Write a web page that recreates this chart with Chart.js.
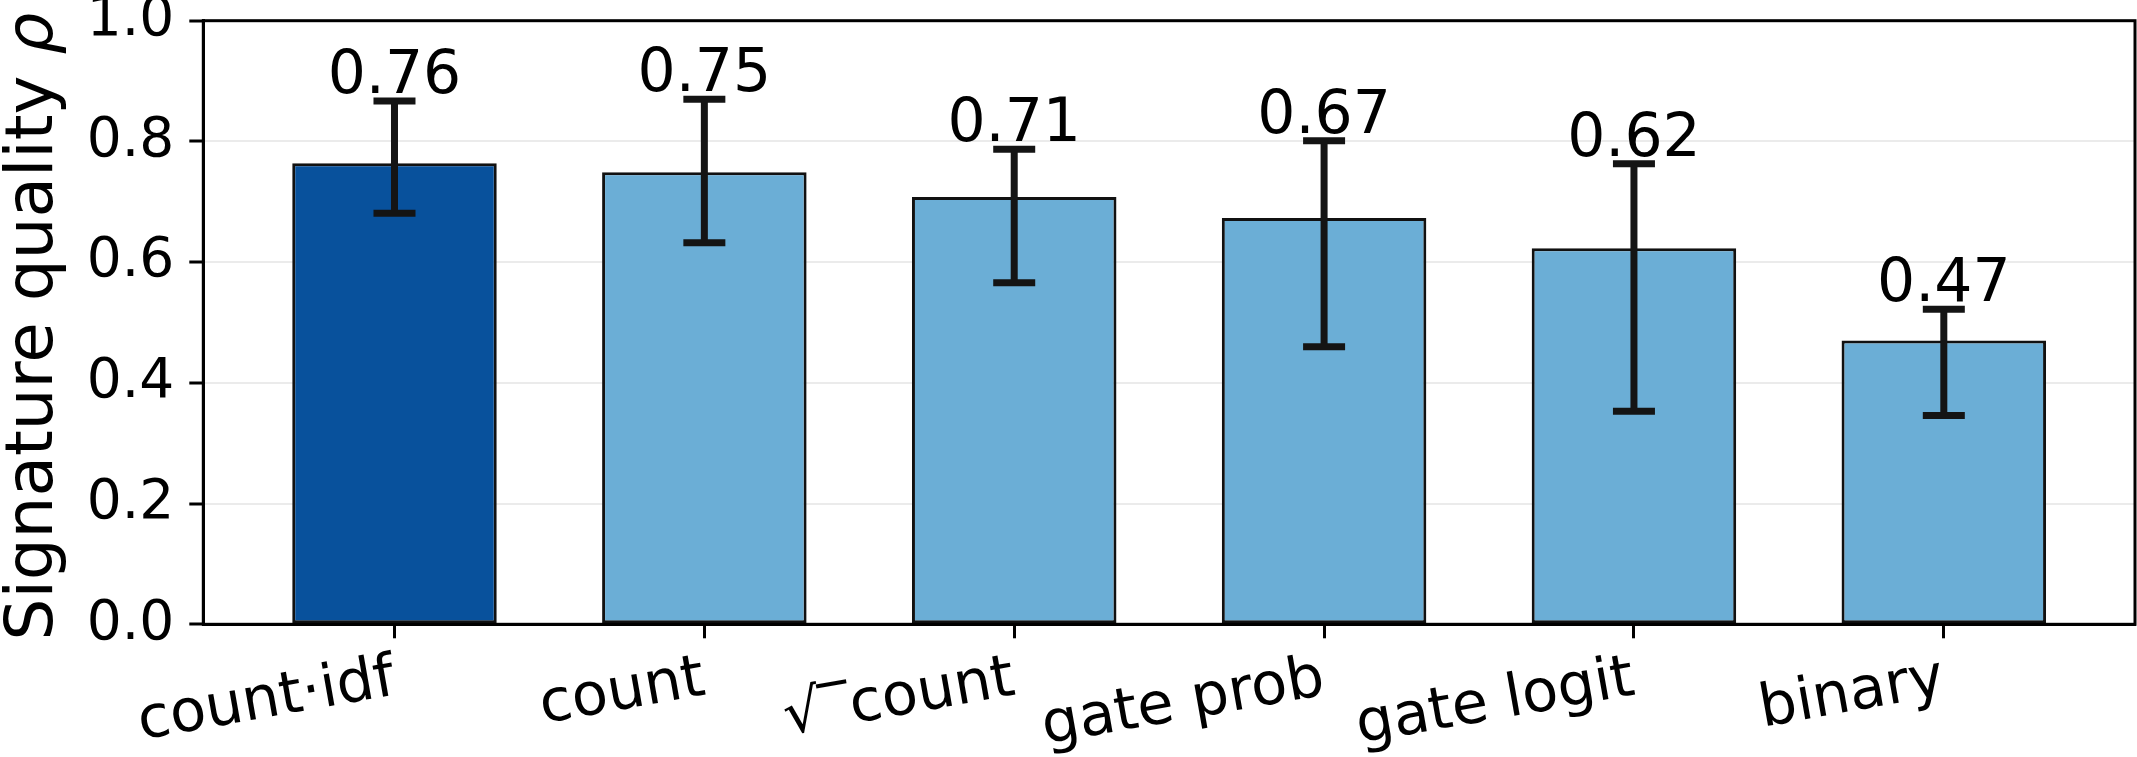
<!DOCTYPE html>
<html>
<head>
<meta charset="utf-8">
<script src="https://cdn.jsdelivr.net/npm/chart.js@4.4.1/dist/chart.umd.min.js"></script>
<style>
  html, body { margin: 0; padding: 0; background: #fff; }
  #wrap { width: 2137px; height: 757px; }
</style>
</head>
<body>
<div id="wrap"><canvas id="sigChart" width="2137" height="757"></canvas></div>
<script>
// categories and values
const categories = ['count·idf', 'count', '√‾count', 'gate prob', 'gate logit', 'binary'];
const meanRho = [0.764, 0.749, 0.708, 0.673, 0.623, 0.470];
const ciLow = [0.681, 0.632, 0.566, 0.460, 0.353, 0.346];
const ciHigh = [0.867, 0.870, 0.787, 0.801, 0.763, 0.522];
const yTicks = [0.0, 0.2, 0.4, 0.6, 0.8, 1.0];

const FONT = "'DejaVu Sans', sans-serif";
const BAR_DARK = '#08519c';
const BAR_LIGHT = '#6baed6';
const INK = '#141414';

const errorBarsPlugin = {
    id: 'errorBars',
    afterDatasetsDraw(chart) {
        const ctx = chart.ctx;
        const x = chart.scales.x;
        const y = chart.scales.y;
        const a = chart.chartArea;
        ctx.save();

        // error bars with caps
        ctx.strokeStyle = INK;
        ctx.lineWidth = 7;
        meanRho.forEach((v, i) => {
            const px = x.getPixelForValue(i);
            const lo = y.getPixelForValue(ciLow[i]);
            const hi = y.getPixelForValue(ciHigh[i]);
            ctx.beginPath();
            ctx.moveTo(px, lo); ctx.lineTo(px, hi);
            ctx.moveTo(px - 21, lo); ctx.lineTo(px + 21, lo);
            ctx.moveTo(px - 21, hi); ctx.lineTo(px + 21, hi);
            ctx.stroke();
        });

        // value labels above the caps
        ctx.fillStyle = '#000';
        ctx.font = '60px ' + FONT;
        ctx.textAlign = 'center';
        ctx.textBaseline = 'alphabetic';
        meanRho.forEach((v, i) => {
            ctx.fillText(v.toFixed(2), x.getPixelForValue(i), y.getPixelForValue(ciHigh[i]) - 8);
        });

        // frame on all four sides
        ctx.strokeStyle = '#000';
        ctx.lineWidth = 3;
        ctx.strokeRect(a.left, a.top, a.right - a.left, a.bottom - a.top);

        // y axis title, rho in italic like mathtext
        const normal = '66px ' + FONT;
        const italic = 'italic 66px ' + FONT;
        const main = 'Signature quality ';
        const rho = 'ρ';
        ctx.translate(52, (a.top + a.bottom) / 2 + 4);
        ctx.rotate(-Math.PI / 2);
        ctx.font = normal;
        const w1 = ctx.measureText(main).width;
        ctx.font = italic;
        const w2 = ctx.measureText(rho).width;
        const start = -(w1 + w2) / 2;
        ctx.textAlign = 'left';
        ctx.font = normal;
        ctx.fillText(main, start, 0);
        ctx.font = italic;
        ctx.fillText(rho, start + w1, 0);

        ctx.restore();
    }
};

new Chart(document.getElementById('sigChart'), {
    type: 'bar',
    data: {
        datasets: [{
            data: meanRho.map((v, i) => ({ x: i, y: v })),
            backgroundColor: meanRho.map((v, i) => i === 0 ? BAR_DARK : BAR_LIGHT),
            borderColor: '#111',
            borderWidth: 3,
            borderSkipped: false,
            barPercentage: 0.66,
            categoryPercentage: 1.0
        }]
    },
    options: {
        responsive: false,
        devicePixelRatio: 1,
        animation: false,
        layout: { padding: { left: 0, top: 20.7, right: 2, bottom: 0 } },
        plugins: {
            legend: { display: false },
            tooltip: { enabled: false }
        },
        scales: {
            x: {
                type: 'linear',
                offset: false,
                min: -0.617,
                max: 5.617,
                afterBuildTicks: s => { s.ticks = categories.map((c, i) => ({ value: i })); },
                afterFit: s => {
                    s.height = 132.7;
                    s.paddingLeft = 0;
                    s.paddingRight = 0;
                },
                grid: { offset: false, drawOnChartArea: false, tickLength: 14, tickColor: '#000', tickWidth: 3 },
                border: { display: true, color: '#000', width: 3 },
                ticks: {
                    autoSkip: false,
                    minRotation: 10,
                    maxRotation: 10,
                    padding: 6,
                    color: '#000',
                    font: { family: FONT, size: 59 },
                    callback: v => categories[v]
                }
            },
            y: {
                min: 0,
                max: 1,
                afterBuildTicks: s => { s.ticks = yTicks.map(v => ({ value: v })); },
                afterFit: s => {
                    s.width = 203.3;
                    s.paddingTop = 0;
                    s.paddingBottom = 0;
                },
                grid: { color: '#ebebeb', lineWidth: 2, tickLength: 14, tickColor: '#000', tickWidth: 3 },
                border: { display: true, color: '#000', width: 3 },
                ticks: {
                    padding: 15,
                    color: '#000',
                    font: { family: FONT, size: 55 },
                    callback: v => v.toFixed(1)
                }
            }
        }
    },
    plugins: [errorBarsPlugin]
});
</script>
</body>
</html>
